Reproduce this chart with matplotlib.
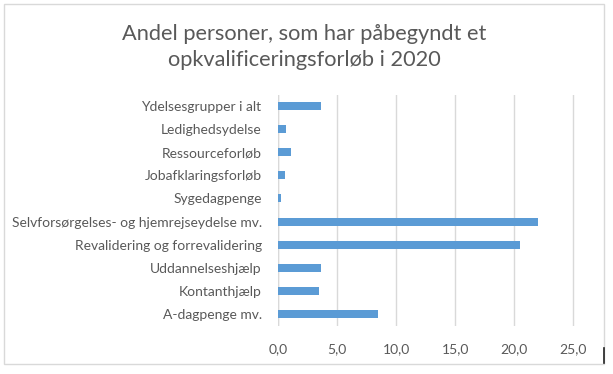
import matplotlib
matplotlib.use("Agg")
import matplotlib.pyplot as plt
from matplotlib.patches import Rectangle
from matplotlib.lines import Line2D

categories = ["Ydelsesgrupper i alt", "Ledighedsydelse", "Ressourceforløb",
              "Jobafklaringsforløb", "Sygedagpenge",
              "Selvforsørgelses- og hjemrejseydelse mv.",
              "Revalidering og forrevalidering", "Uddannelseshjælp",
              "Kontanthjælp", "A-dagpenge mv."]
values = [3.6, 0.65, 1.08, 0.57, 0.23, 22.0, 20.5, 3.6, 3.45, 8.45]
xticks = [0, 5, 10, 15, 20, 25]
xticklabels = ["0,0", "5,0", "10,0", "15,0", "20,0", "25,0"]
title = "Andel personer, som har påbegyndt et\nopkvalificeringsforløb i 2020"

W, H = 613, 374
fig = plt.figure(figsize=(W / 100, H / 100), dpi=100)
plt.rcParams['font.family'] = ['Lato', 'DejaVu Sans']

left, right, top, bottom = 278.3, 590, 94.5, 325.5
ax = fig.add_axes([left / W, 1 - bottom / H, (right - left) / W, (bottom - top) / H])
xmax = (right - left) / 11.8
n = len(categories)
ypos = list(range(n))
ax.barh(ypos, values, height=0.35, color="#5b9bd5", zorder=3)
ax.set_ylim(n - 0.5, -0.5)
ax.set_xlim(0, xmax)
ax.set_xticks(xticks)
ax.set_xticklabels(xticklabels)
ax.set_yticks(ypos)
ax.set_yticklabels(categories)
for s in ax.spines.values():
    s.set_visible(False)
ax.axvline(0, color="#d9d9d9", lw=1, zorder=2)
ax.grid(axis="x", color="#d9d9d9", lw=1, zorder=0)
ax.tick_params(length=0, labelsize=10, labelcolor="#595959")
ax.tick_params(axis="y", pad=12)
ax.tick_params(axis="x", pad=13)

fig.text(304 / W, 1 - 47 / H, title, ha="center", va="center", fontsize=15.7,
         color="#595959", linespacing=1.35)

# chart border
fig.patches.append(Rectangle((4 / W, 1 - 364 / H), 600 / W, 360 / H, transform=fig.transFigure,
                             fill=False, edgecolor="#d9d9d9", lw=1))
fig.lines.append(Line2D([604 / W, 604 / W], [1 - 348 / H, 1 - 363 / H],
                        transform=fig.transFigure, color="#222222", lw=1.2))

fig.savefig("out.png", dpi=100)
